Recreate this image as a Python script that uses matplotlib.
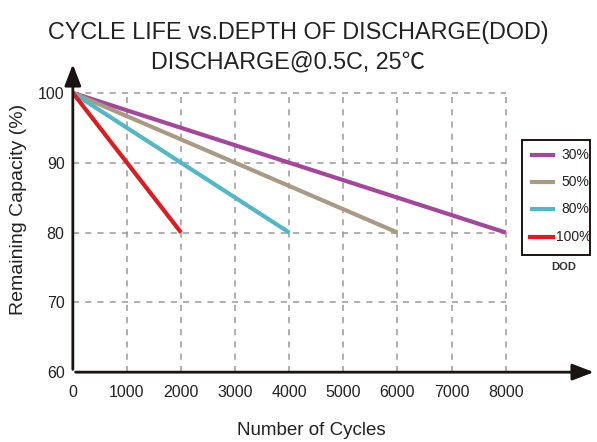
import matplotlib
matplotlib.use('Agg')
import matplotlib.pyplot as plt
from matplotlib.patches import Rectangle
from matplotlib.lines import Line2D

plt.rcParams['font.family'] = ['Liberation Sans', 'DejaVu Sans']

# data
dod_labels = ['30%', '50%', '80%', '100%']
end_cycles = [8000, 6000, 4000, 2000]
start_cap = [100, 100, 100, 100]
end_cap = [80, 80, 80, 80]
colors = ['#a4479c', '#a99b83', '#52b8c8', '#e01b1f']

x_ticks = [0, 1000, 2000, 3000, 4000, 5000, 6000, 7000, 8000]
y_ticks = [60, 70, 80, 90, 100]

W, H = 597, 442
fig = plt.figure(figsize=(W / 100, H / 100), dpi=100)
ax = fig.add_axes([0.122, 0.158, 0.87, 0.695])
ax.set_xlim(0, 9600)
ax.set_ylim(60, 104)

# dashed grid (only within the data area)
for x in x_ticks[1:]:
    ax.plot([x, x], [60, 100], color='#9a9a9a', lw=1.1, ls=(0, (4, 4)), zorder=1)
for y in y_ticks[1:]:
    ax.plot([0, 8000], [y, y], color='#9a9a9a', lw=1.1, ls=(0, (4, 4)), zorder=1)

# curves
for lab, xe, y0, y1, c in zip(dod_labels, end_cycles, start_cap, end_cap, colors):
    ax.plot([0, xe], [y0, y1], color=c, lw=3, solid_capstyle='butt', zorder=3)

# axes with arrows
for s in ['top', 'right', 'left', 'bottom']:
    ax.spines[s].set_visible(False)
ax.annotate('', xy=(9680, 60), xytext=(0, 60),
            arrowprops=dict(arrowstyle='-|>,head_length=1.3,head_width=0.5',
                            color='#1a1311', lw=2), annotation_clip=False, zorder=4)
ax.annotate('', xy=(0, 104.5), xytext=(0, 60),
            arrowprops=dict(arrowstyle='-|>,head_length=1.3,head_width=0.5',
                            color='#1a1311', lw=2), annotation_clip=False, zorder=4)

ax.set_xticks(x_ticks)
ax.set_yticks(y_ticks)
ax.tick_params(length=0, labelsize=11.5, colors='#222222')
ax.tick_params(axis='x', pad=9)
ax.tick_params(axis='y', pad=6)

ax.set_xlabel('Number of Cycles', fontsize=13.5, color='#222222')
ax.xaxis.set_label_coords(0.46, -0.163)
ax.set_ylabel('Remaining Capacity (%)', fontsize=14, color='#222222')
ax.yaxis.set_label_coords(-0.088, 0.53)

# legend box drawn by hand (pixel layout -> figure fraction)
def fx(px):
    return px / W

def fy(py):
    return 1 - py / H

fig.add_artist(Rectangle((fx(522), fy(255)), fx(590) - fx(522), fy(140) - fy(255),
                         transform=fig.transFigure, fill=False,
                         edgecolor='#1a1311', lw=1.4))
row_y = [155, 182, 209, 237]
for lab, c, ry in zip(dod_labels, colors, row_y):
    x0 = 530 if lab == '100%' else 532
    tx = 556 if lab == '100%' else 561
    fig.add_artist(Line2D([fx(x0), fx(553)], [fy(ry), fy(ry)],
                          transform=fig.transFigure, color=c, lw=3))
    fig.text(fx(tx), fy(ry), lab, fontsize=10, color='#222222',
             ha='left', va='center')
fig.text(fx(564), fy(267), 'DOD', fontsize=8, fontweight='bold',
         color='#333333', ha='center', va='center')

# title
fig.text(0.5, 0.927, 'CYCLE LIFE vs.DEPTH OF DISCHARGE(DOD)', fontsize=16.8,
         ha='center', va='center', color='#222222')
fig.text(0.483, 0.86, 'DISCHARGE@0.5C, 25\u2103', fontsize=16.8,
         ha='center', va='center', color='#222222',
         family=['Liberation Sans', 'Noto Sans CJK SC', 'DejaVu Sans'])

fig.savefig('out.png', dpi=100, facecolor='white')
